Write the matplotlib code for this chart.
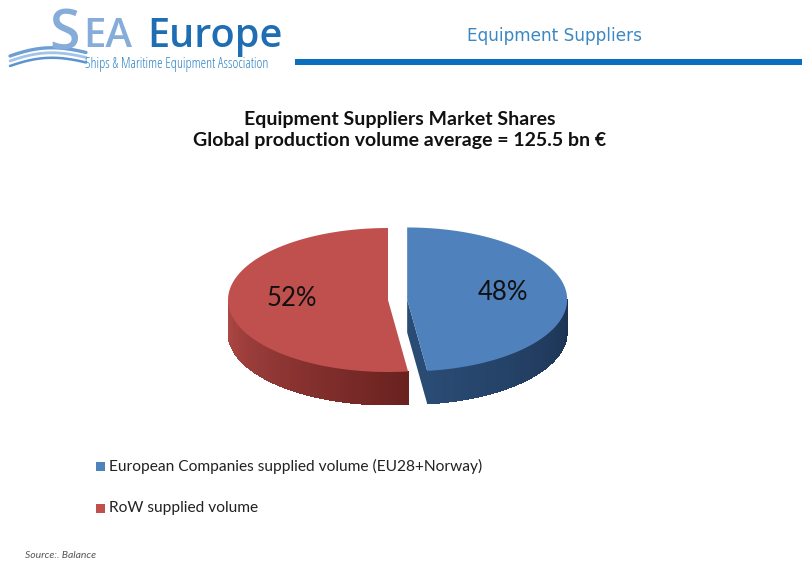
import numpy as np
import matplotlib
matplotlib.use("Agg")
import matplotlib.pyplot as plt
from matplotlib.patches import Polygon, Rectangle
from matplotlib.colors import to_rgb

plt.rcParams['font.family'] = ['Lato', 'DejaVu Sans']

# market shares in percent, clockwise from 12 o'clock
series = ["European Companies supplied volume (EU28+Norway)", "RoW supplied volume"]
shares = [48, 52]
top_colors = ["#4f81bd", "#c0504d"]
wall_colors = [("#2a4b74", "#1c3352"), ("#b04946", "#6a2220")]
explode = [0.12, 0.0]

title = "Equipment Suppliers Market Shares\nGlobal production volume average = 125.5 bn \u20ac"
header = "Equipment Suppliers"
source = "Source:. Balance"

W, H = 803, 563
fig = plt.figure(figsize=(W / 100, H / 100), dpi=100)
ax = fig.add_axes([0, 0, 1, 1])
ax.set_xlim(0, W)
ax.set_ylim(H, 0)
ax.axis('off')

# pie geometry (pixels)
cx, cy = 388, 300
rx, ry = 160, 72
depth = 33


def rim(c, a0, a1, n=120, drop=0.0):
    t = np.radians(np.linspace(a0, a1, n))
    return np.column_stack([c[0] + rx * np.cos(t), c[1] - ry * np.sin(t) + drop])


def mix(c0, c1, f):
    c0, c1 = np.array(to_rgb(c0)), np.array(to_rgb(c1))
    return tuple(c0 + (c1 - c0) * f)


total = sum(shares)
angle = 90.0
for i, v in enumerate(shares):
    sweep = 360.0 * v / total
    a_start, a_end = angle - sweep, angle   # clockwise from 12 o'clock
    angle = a_start
    mid = np.radians((a_start + a_end) / 2)
    c = (cx + explode[i] * rx * np.cos(mid), cy - explode[i] * ry * np.sin(mid))

    # front wall: the part of the rim facing the viewer (sin < 0)
    lo, hi = a_start, a_end
    segs = []
    for k in range(-1, 2):
        s0, s1 = max(lo, 180 + 360 * k), min(hi, 360 + 360 * k)
        if s1 > s0:
            segs.append((s0, s1))
    for s0, s1 in segs:
        steps = np.linspace(s0, s1, 60)
        for j in range(len(steps) - 1):
            f = j / (len(steps) - 2) if len(steps) > 2 else 0
            top = rim(c, steps[j], steps[j + 1], n=4)
            bot = rim(c, steps[j + 1], steps[j], n=4, drop=depth)
            ax.add_patch(Polygon(np.vstack([top, bot]), closed=True,
                                 facecolor=mix(*wall_colors[i], f),
                                 edgecolor='none', antialiased=False, zorder=2))

    # cut face along the start edge when it turns toward the viewer
    ta = np.radians(a_start)
    if np.sin(ta - np.pi / 2) < 0 and explode[i] > 0:
        p_rim = (c[0] + rx * np.cos(ta), c[1] - ry * np.sin(ta))
        face = [c, p_rim, (p_rim[0], p_rim[1] + depth), (c[0], c[1] + depth)]
        ax.add_patch(Polygon(face, closed=True, facecolor=wall_colors[i][0],
                             edgecolor='none', zorder=2.5))

    # top surface
    pts = np.vstack([[c], rim(c, a_start, a_end)])
    ax.add_patch(Polygon(pts, closed=True, facecolor=top_colors[i],
                         edgecolor='none', zorder=3))

    # percentage label
    ax.text(c[0] + 0.6 * rx * np.cos(mid), c[1] - 0.6 * ry * np.sin(mid) - 4,
            f"{v:.0f}%", ha='center', va='center', fontsize=18.5,
            color='#111111', zorder=4)

# chart title
ax.text(400, 130, title, ha='center', va='center', fontsize=14.0,
        fontweight='bold', color='#111111', linespacing=1.25)

# legend
for i, name in enumerate(series):
    y = 466 + 42 * i
    ax.add_patch(Rectangle((96, y - 4.5), 9, 9, facecolor=top_colors[i],
                           edgecolor='none'))
    ax.text(109, y, name, ha='left', va='center', fontsize=11.2, color='#222222')

ax.text(25, 555, source, ha='left', va='center', fontsize=7.5,
        style='italic', color='#555555')

# page header
ax.text(467, 36, header, ha='left', va='center', fontsize=12.2,
        color='#3b88c3', family='DejaVu Sans')
ax.add_patch(Rectangle((295, 59), W - 295, 6, facecolor='#0b6fbf',
                       edgecolor='none'))

# logo
ax.text(49, 50, "S", ha='left', va='baseline', fontsize=40,
        color='#86acd9', family='Open Sans', fontweight='semibold')
ax.text(83, 47, "EA", ha='left', va='baseline', fontsize=29,
        color='#86acd9', family='Open Sans', fontweight='semibold')
ax.text(147, 47, "Europe", ha='left', va='baseline', fontsize=28.5,
        color='#1f6db3', family='Open Sans', fontweight='semibold')
ax.text(85, 64, "Ships & Maritime Equipment Association", ha='left',
        va='center', fontsize=10.2, color='#2f84c4', family='Open Sans',
        stretch='condensed')
# wave swooshes under the S
wx = np.linspace(10, 86, 100)
u = (wx - 10) / 76
for k, (off, lw, col) in enumerate([(56, 2.4, '#6d9fd4'), (61, 2.0, '#a3c4e8'),
                                     (66, 1.8, '#5b93cf')]):
    wy = off - 12 * np.sin(u * np.pi * 0.75) * (1 - 0.35 * u) + 2 * u
    ax.plot(wx, wy, color=col, lw=lw, solid_capstyle='round', zorder=0)

fig.savefig("out.png", dpi=100, facecolor='white')
